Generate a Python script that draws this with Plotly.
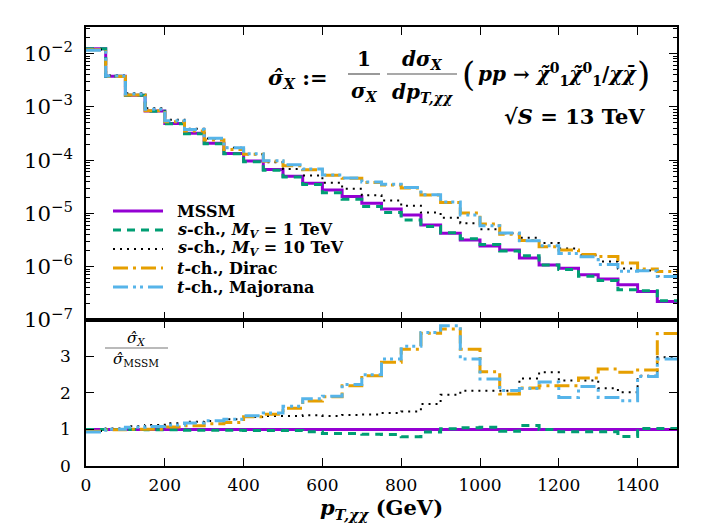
import plotly.graph_objects as go
from plotly.subplots import make_subplots

# ---------------- data ----------------
bin_lo = [0, 50, 100, 150, 200, 250, 300, 350, 400, 450, 500, 550, 600, 650, 700,
          750, 800, 850, 900, 950, 1000, 1050, 1100, 1150, 1200, 1250, 1300, 1350, 1400, 1450]
bin_hi_last = 1500

mssm = [1.24e-2, 3.76e-3, 1.65e-3, 8.4e-4, 4.9e-4, 3.2e-4, 2.07e-4, 1.34e-4, 9.6e-5, 6.7e-5,
        5.0e-5, 3.7e-5, 2.75e-5, 2.07e-5, 1.55e-5, 1.21e-5, 9.4e-6, 6.1e-6, 4.26e-6, 3.19e-6,
        2.46e-6, 2.07e-6, 1.45e-6, 1.08e-6, 9.4e-7, 7.05e-7, 5.86e-7, 4.58e-7, 3.43e-7, 2.23e-7]

ratio_s1 = [1.0, 1.0, 1.0, 0.99, 0.99, 0.98, 0.98, 0.98, 0.97, 0.97,
            0.97, 0.94, 0.89, 0.89, 0.87, 0.86, 0.80, 0.93, 1.02, 1.05,
            1.06, 0.95, 1.11, 1.0, 0.94, 0.94, 0.94, 0.81, 1.03, 1.03]
ratio_s10 = [0.96, 1.03, 1.09, 1.12, 1.17, 1.21, 1.23, 1.28, 1.34, 1.37,
             1.37, 1.39, 1.37, 1.40, 1.41, 1.45, 1.49, 1.70, 1.95, 2.06,
             2.06, 2.06, 2.40, 2.57, 2.34, 2.34, 2.13, 2.02, 2.47, 2.98]
ratio_dirac = [0.95, 0.99, 1.01, 1.01, 1.07, 1.10, 1.16, 1.19, 1.35, 1.42,
               1.58, 1.78, 1.90, 2.20, 2.47, 2.84, 3.20, 3.64, 3.75, 3.20,
               2.58, 1.97, 2.14, 2.20, 2.20, 2.41, 2.66, 2.57, 2.63, 3.63]
ratio_major = [0.93, 1.01, 1.06, 1.08, 1.12, 1.18, 1.24, 1.28, 1.38, 1.45,
               1.64, 1.84, 1.91, 2.23, 2.50, 2.93, 3.28, 3.66, 3.84, 2.93,
               2.38, 2.07, 2.12, 2.30, 1.88, 2.18, 1.88, 1.79, 2.45, 2.93]
ratio_mssm = [1.0] * 30

names = ["MSSM", "s-ch., M_V = 1 TeV", "s-ch., M_V = 10 TeV", "t-ch., Dirac", "t-ch., Majorana"]
legend_html = [
    "<b>MSSM</b>",
    "<b><i>s</i>-ch., <i>M<sub>V</sub></i> = 1 TeV</b>",
    "<b><i>s</i>-ch., <i>M<sub>V</sub></i> = 10 TeV</b>",
    "<b><i>t</i>-ch., Dirac</b>",
    "<b><i>t</i>-ch., Majorana</b>",
]
ratios = [ratio_mssm, ratio_s1, ratio_s10, ratio_dirac, ratio_major]
colors = ["#9400D3", "#009E73", "#000000", "#E69F00", "#56B4E9"]
dashes = ["solid", "8px,6px", "2px,5px", "15px,5px,3px,5px", "15px,5px,3px,4px,3px,5px"]
widths = [3, 3, 2, 3, 3]

# ---------------- figure ----------------
fig = make_subplots(rows=2, cols=1, shared_xaxes=True, vertical_spacing=0,
                    row_heights=[0.6674, 0.3326])

xs = bin_lo + [bin_hi_last]
for name, r, c, d, w in zip(names, ratios, colors, dashes, widths):
    top = [m * q for m, q in zip(mssm, r)]
    fig.add_trace(go.Scatter(x=xs, y=top + [top[-1]], mode="lines", line_shape="hv",
                             line=dict(color=c, dash=d, width=w), name=name,
                             showlegend=False), row=1, col=1)
    fig.add_trace(go.Scatter(x=xs, y=r + [r[-1]], mode="lines", line_shape="hv",
                             line=dict(color=c, dash=d, width=w), name=name,
                             showlegend=False), row=2, col=1)

FONT = "DejaVu Serif, Liberation Serif, serif"
axis_common = dict(showline=True, linecolor="black", linewidth=1.5, mirror="allticks",
                   ticks="inside", ticklen=8, tickwidth=1.4, tickcolor="black",
                   showgrid=False, zeroline=False)

fig.update_xaxes(range=[0, 1500], tickvals=[0, 200, 400, 600, 800, 1000, 1200, 1400],
                 **axis_common)
fig.update_xaxes(showticklabels=False, row=1, col=1)
fig.update_xaxes(ticklabelstandoff=3, row=2, col=1,
                 title=dict(text="<b><i>p</i><sub><i>T,χχ</i></sub> (GeV)</b>",
                            font=dict(size=21, family=FONT), standoff=4))
fig.update_yaxes(type="log", range=[-7, -1.5], dtick=1, exponentformat="power",
                 ticklabelstandoff=8,
                 minor=dict(ticks="inside", ticklen=4, tickcolor="black", tickwidth=1),
                 row=1, col=1, **axis_common)
fig.update_yaxes(range=[0, 4], tickvals=[0, 1, 2, 3], ticklabelstandoff=10,
                 row=2, col=1, **axis_common)

W0, W1, H1 = 86, 677, 466
PW, PH = W1 - W0, 439


def px(x):
    return (x - W0) / PW


def py(y):
    return (H1 - y) / PH


ann = []
shapes = []

# formula
fs = 20
ann.append(dict(text="<b><i>σ̂<sub>X</sub></i> :=</b>", x=px(266), y=py(78), xanchor="left",
                yanchor="middle", font=dict(size=fs + 1)))
ann.append(dict(text="<b>1</b>", x=px(364), y=py(59), xanchor="center", yanchor="middle",
                font=dict(size=fs)))
ann.append(dict(text="<b><i>σ<sub>X</sub></i></b>", x=px(364), y=py(92), xanchor="center",
                yanchor="middle", font=dict(size=fs)))
ann.append(dict(text="<b><i>dσ<sub>X</sub></i></b>", x=px(422), y=py(60), xanchor="center",
                yanchor="middle", font=dict(size=fs)))
ann.append(dict(text="<b><i>dp<sub>T,χχ</sub></i></b>", x=px(422), y=py(93), xanchor="center",
                yanchor="middle", font=dict(size=fs)))
ann.append(dict(text="(", x=px(460), y=py(74), xanchor="left", yanchor="middle",
                font=dict(size=34)))
ann.append(dict(text=")", x=px(652), y=py(74), xanchor="right", yanchor="middle",
                font=dict(size=34)))
ann.append(dict(text="<b><i>pp</i> → <i>χ̃</i><sup>0</sup><sub>1</sub><i>χ̃</i><sup>0</sup><sub>1</sub>/<i>χχ̄</i></b>",
                x=px(557), y=py(74), xanchor="center", yanchor="middle", font=dict(size=fs)))
ann.append(dict(text="<b>√<i>S</i> = 13 TeV</b>", x=px(647), y=py(116), xanchor="right",
                yanchor="middle", font=dict(size=fs + 1)))
shapes.append(dict(type="line", xref="paper", yref="paper", x0=px(348), x1=px(380),
                   y0=py(74), y1=py(74), line=dict(color="#555555", width=1.2)))
shapes.append(dict(type="line", xref="paper", yref="paper", x0=px(387), x1=px(457),
                   y0=py(74), y1=py(74), line=dict(color="#555555", width=1.2)))

# ratio label
ann.append(dict(text="<i>σ̂<sub>X</sub></i>", x=px(136), y=py(338), xanchor="center",
                yanchor="middle", font=dict(size=15)))
ann.append(dict(text="<i>σ̂</i><sub>MSSM</sub>", x=px(136), y=py(359), xanchor="center",
                yanchor="middle", font=dict(size=15)))
shapes.append(dict(type="line", xref="paper", yref="paper", x0=px(105), x1=px(168),
                   y0=py(348), y1=py(348), line=dict(color="#777777", width=1.2)))

# legend
rows = [211, 230, 249, 268, 287]
for yy, t, c, d, w in zip(rows, legend_html, colors, dashes, widths):
    shapes.append(dict(type="line", xref="paper", yref="paper", x0=px(113), x1=px(163),
                       y0=py(yy), y1=py(yy), line=dict(color=c, dash=d, width=w)))
    ann.append(dict(text=t, x=px(175), y=py(yy), xanchor="left", yanchor="middle",
                    font=dict(size=16)))

for a in ann:
    a.update(xref="paper", yref="paper", showarrow=False)
    a["font"].update(family=FONT, color="black")

fig.update_layout(width=709, height=532, margin=dict(l=86, r=32, t=27, b=66),
                  plot_bgcolor="white", paper_bgcolor="white",
                  font=dict(family=FONT, size=17, color="black"),
                  showlegend=False, annotations=ann, shapes=shapes)

fig.write_html("out.html")
